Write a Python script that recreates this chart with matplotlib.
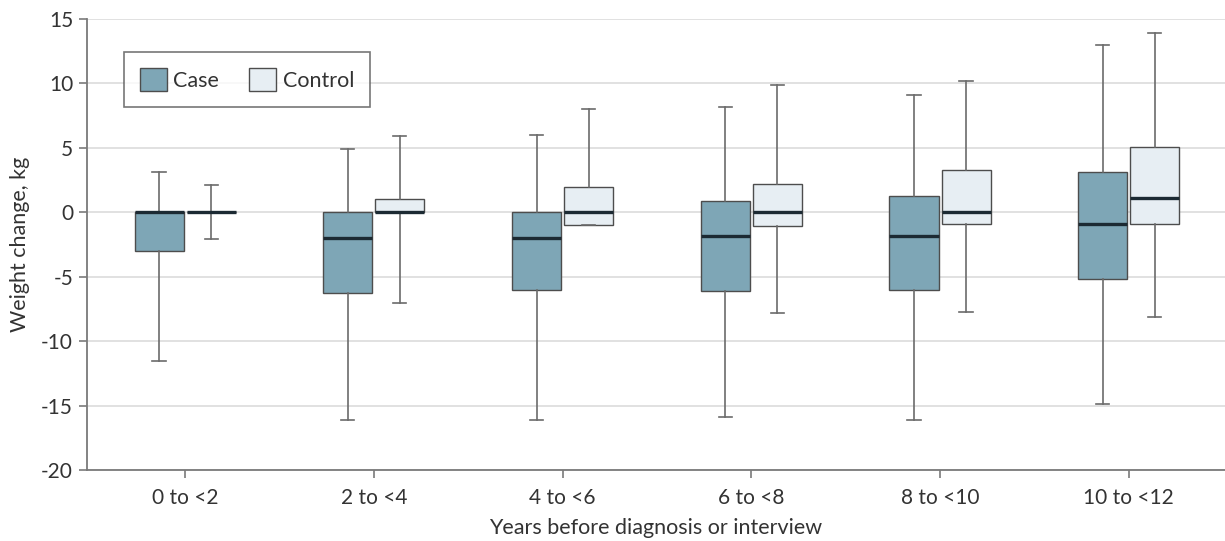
import numpy as np
import matplotlib.pyplot as plt
from matplotlib.patches import Patch

plt.rcParams['font.family'] = ['Lato', 'DejaVu Sans']

groups = ["0 to <2", "2 to <4", "4 to <6", "6 to <8", "8 to <10", "10 to <12"]

# whisker low, Q1, median, Q3, whisker high
case_lo = [-11.5, -16.1, -16.1, -15.9, -16.1, -14.9]
case_q1 = [-3.0, -6.25, -6.0, -6.1, -6.0, -5.2]
case_med = [0.0, -2.0, -2.0, -1.8, -1.8, -0.9]
case_q3 = [0.0, 0.0, 0.0, 0.9, 1.25, 3.1]
case_hi = [3.1, 4.9, 6.0, 8.2, 9.1, 13.0]

ctrl_lo = [-2.1, -7.0, -1.0, -7.8, -7.75, -8.1]
ctrl_q1 = [0.0, 0.0, -1.0, -1.05, -0.9, -0.9]
ctrl_med = [0.0, 0.0, 0.0, 0.0, 0.0, 1.1]
ctrl_q3 = [0.0, 1.0, 2.0, 2.2, 3.3, 5.1]
ctrl_hi = [2.1, 5.9, 8.0, 9.9, 10.2, 13.9]

case_color = "#7ea6b6"
ctrl_color = "#e7eef3"


def make_stats(lo, q1, med, q3, hi):
    return [dict(whislo=a, q1=b, med=c, q3=d, whishi=e, fliers=[])
            for a, b, c, d, e in zip(lo, q1, med, q3, hi)]


fig = plt.figure(figsize=(12.25, 5.41), dpi=100)
ax = fig.add_axes([0.071, 0.131, 0.929, 0.834])

x = np.arange(len(groups))
offset = 0.138
width = 0.26

for stats, pos, color in [
    (make_stats(case_lo, case_q1, case_med, case_q3, case_hi), x - offset, case_color),
    (make_stats(ctrl_lo, ctrl_q1, ctrl_med, ctrl_q3, ctrl_hi), x + offset, ctrl_color),
]:
    ax.bxp(
        stats,
        positions=pos,
        widths=width,
        capwidths=0.07,
        patch_artist=True,
        showfliers=False,
        boxprops=dict(facecolor=color, edgecolor="#4d4d4d", linewidth=1.0),
        medianprops=dict(color="#1c2a33", linewidth=2.4, solid_capstyle="butt"),
        whiskerprops=dict(color="#6b6b6b", linewidth=1.2),
        capprops=dict(color="#6b6b6b", linewidth=1.2),
        zorder=3,
    )

ax.set_xlim(-0.52, 5.51)
ax.set_ylim(-20, 15)
ax.set_yticks(np.arange(-20, 16, 5))
ax.set_xticks(x)
ax.set_xticklabels(groups)

ax.yaxis.grid(True, color="#dcdcdc", linewidth=1.2, zorder=0)
ax.set_axisbelow(True)

for side in ["top", "right"]:
    ax.spines[side].set_visible(False)
for side in ["left", "bottom"]:
    ax.spines[side].set_color("#7a7a7a")
    ax.spines[side].set_linewidth(1.3)

ax.tick_params(axis="y", length=6, width=1.2, color="#7a7a7a", labelsize=15, pad=4, labelcolor="#333333")
ax.tick_params(axis="x", length=6, width=1.2, color="#7a7a7a", labelsize=15, pad=7, labelcolor="#333333")
ax.yaxis.set_major_formatter(plt.FuncFormatter(lambda v, p: f"{int(v)}"))

ax.set_ylabel("Weight change, kg", fontsize=15.5, color="#333333", labelpad=8)
ax.set_xlabel("Years before diagnosis or interview", fontsize=15.5, color="#333333", labelpad=7)

handles = [
    Patch(facecolor=case_color, edgecolor="#4d4d4d", label="Case"),
    Patch(facecolor=ctrl_color, edgecolor="#4d4d4d", label="Control"),
]
leg = ax.legend(
    handles=handles, loc="upper left", bbox_to_anchor=(0.0325, 0.927),
    ncol=2, fontsize=15.5, frameon=True, fancybox=False, borderaxespad=0,
    handlelength=1.25, handleheight=1.25, columnspacing=1.4, borderpad=0.75,
    handletextpad=0.3,
)
leg.get_frame().set_edgecolor("#555555")
leg.get_frame().set_linewidth(1.2)
for t in leg.get_texts():
    t.set_color("#333333")

fig.savefig("out.png", dpi=100)
